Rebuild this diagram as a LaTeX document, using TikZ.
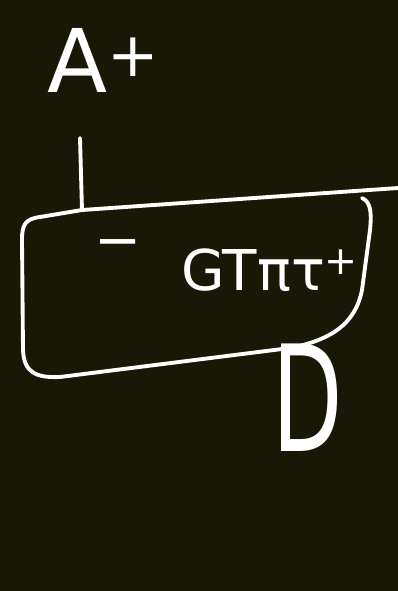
\documentclass[tikz,border=0pt]{standalone}
\usepackage{fontspec}
\setsansfont{DejaVu Sans}
\usetikzlibrary{positioning}
\definecolor{board}{RGB}{25,23,6}

\begin{document}
\begin{tikzpicture}[
        x=0.02cm, y=-0.02cm,
        chalk/.style={draw=white, line width=2.2pt, line cap=round, line join=round},
        label/.style={text=white, inner sep=0pt, font=\sffamily\fontsize{#1}{#1}\selectfont},
        label/.default=50
    ]
        \fill[board] (0,0) rectangle (398,591);
        \useasboundingbox (0,0) rectangle (398,591);

        % labels
        \node[label=50] (ion) at (104,60) {A\textsuperscript{+}};
        \node[label=32] (core) at (270,270) {GTπτ\textsuperscript{+}};
        \node[label=32] (minus) at (118,250) {−};
        \node[label=84, xscale=0.62, transform shape] (dee) at (308,398) {D};

        % the box and its long top edge
        \coordinate (stem) at (80,138);
        \coordinate (rim) at (82,210);
        \draw[chalk] (398,188) -- (rim) -- (40,217) .. controls (25,219) and (22,225) .. (22,240)
            -- (23,350) .. controls (24,372) and (35,378) .. (60,377)
            -- (290,348) .. controls (330,340) and (355,325) .. (362,290)
            -- (370,230) .. controls (372,210) and (370,202) .. (362,198);

        \draw[chalk] (stem) -- (rim);
    \end{tikzpicture}
\end{document}
